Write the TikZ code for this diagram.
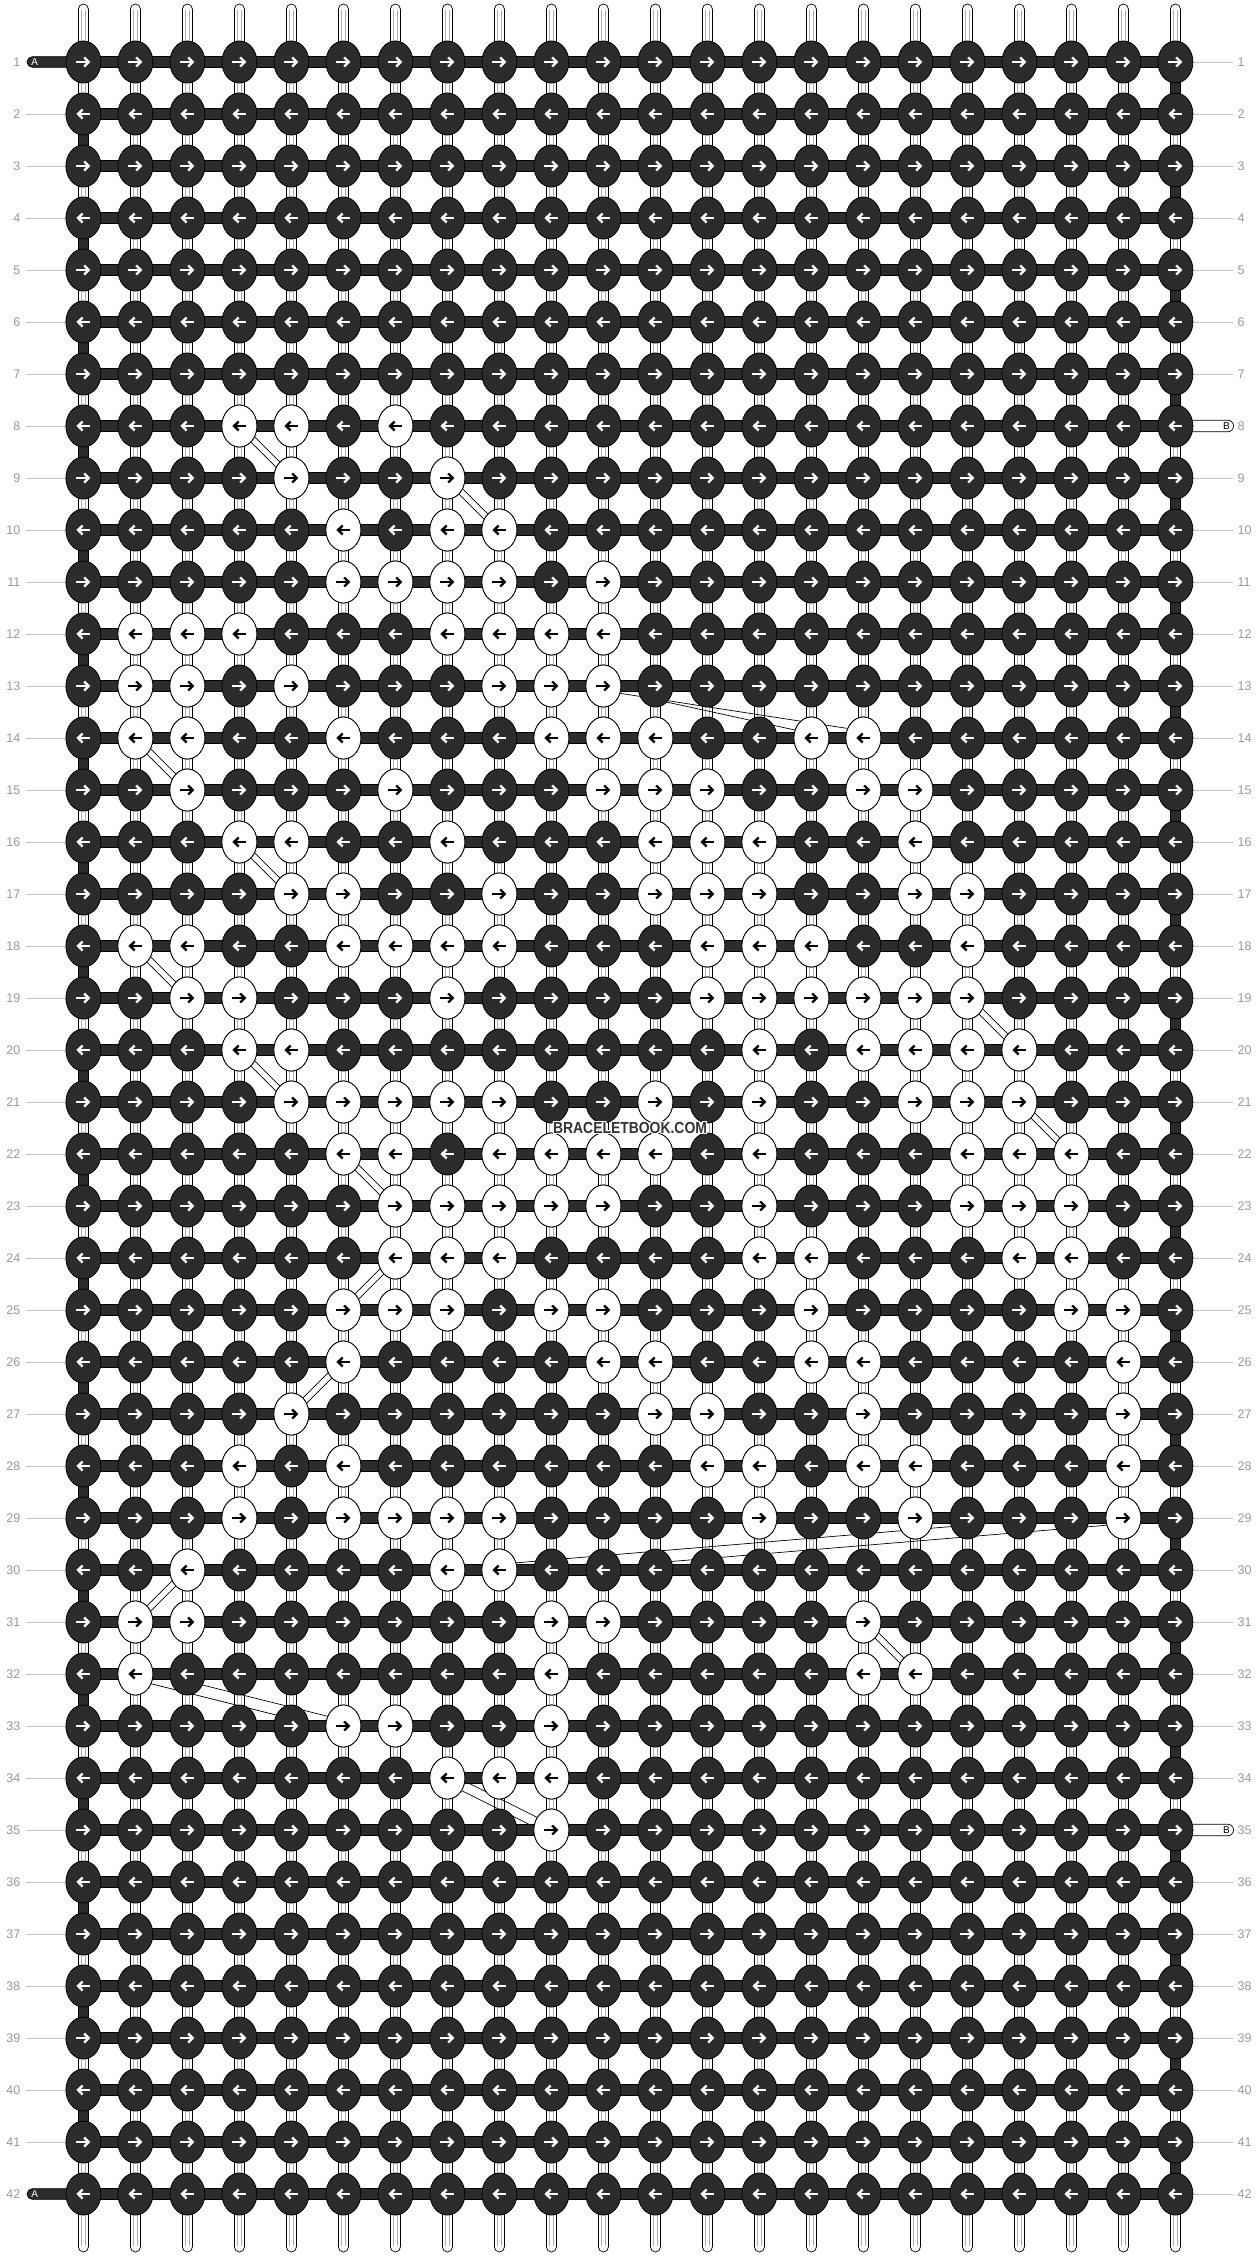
\documentclass[tikz,border=0pt]{standalone}
\usepackage{fontspec}
\setmainfont{Liberation Sans}
\usetikzlibrary{arrows.meta,shapes.geometric}
\definecolor{knotdark}{HTML}{2C2C2C}
\definecolor{numgray}{HTML}{999999}
\definecolor{linegray}{HTML}{C4C4C4}
\definecolor{tubegray}{HTML}{B0B0B0}
\definecolor{wmdark}{HTML}{333333}
\newcommand\dtube[5]{%
  \draw[diag] ([yshift=#5pt]p-#1-#2) -- ([yshift=#5pt]p-#3-#4);
  \draw[diag] ([yshift=-#5pt]p-#1-#2) -- ([yshift=-#5pt]p-#3-#4);
}
\newcommand\wrow[2]{%
  \ifodd#1 \def\axs{-7}\def\axe{7}\else\def\axs{7}\def\axe{-7}\fi
  \foreach \c in {#2}{%
    \node[lightknot] (w-#1-\c) at (p-#1-\c) {};
    \draw[arrb] ([xshift=\axs pt]p-#1-\c) -- ([xshift=\axe pt]p-#1-\c);
  }%
}
\begin{document}
\begin{tikzpicture}[x=1pt,y=-1pt,
  knotshape/.style={ellipse, minimum width=35pt, minimum height=42pt, inner sep=0pt, draw=black, line width=0.8pt},
  darkknot/.style={knotshape, fill=knotdark},
  lightknot/.style={knotshape, fill=white},
  bar/.style={fill=knotdark, draw=black, line width=0.7pt},
  tube/.style={fill=white, draw=black, line width=0.7pt},
  tubeline/.style={draw=tubegray, line width=0.6pt},
  diag/.style={draw=black, line width=0.7pt},
  numline/.style={draw=linegray, line width=0.9pt},
  numlabel/.style={text=numgray, font=\fontsize{12.5}{14}\selectfont, inner sep=0pt},
  arrw/.style={draw=white, line width=2.4pt, -{Straight Barb[length=4.5pt,width=9pt]}},
  arrb/.style={arrw, draw=black},
  tablabel/.style={font=\fontsize{10}{12}\selectfont, inner sep=0pt},
  wm/.style={font=\bfseries\fontsize{16}{18}\selectfont, inner sep=0pt}
]
\useasboundingbox (0,0) rectangle (1260,2256);
\fill[white] (0,0) rectangle (1260,2256);

% grid coordinates
\foreach \r in {1,...,42}{
  \foreach \c in {1,...,22}{
    \coordinate (p-\r-\c) at ({83.4+52*(\c-1)},{62+52*(\r-1)});
  }
}

% top and bottom string ends
\foreach \c in {1,...,22}{
  \path[tube, rounded corners=5pt] ([xshift=-5pt]p-1-\c) -- ++(0,-58) -- ++(10,0) -- ([xshift=5pt]p-1-\c) -- cycle;
  \draw[tubeline] ([xshift=-1.8pt]p-1-\c) -- ++(0,-52);
  \draw[tubeline] ([xshift=1.8pt]p-1-\c) -- ++(0,-52);
  \path[tube, rounded corners=5pt] ([xshift=-5pt]p-42-\c) -- ++(0,58) -- ++(10,0) -- ([xshift=5pt]p-42-\c) -- cycle;
  \draw[tubeline] ([xshift=-1.8pt]p-42-\c) -- ++(0,52);
  \draw[tubeline] ([xshift=1.8pt]p-42-\c) -- ++(0,52);
}

% segments between rows
\foreach \r in {1,...,41}{
  \pgfmathtruncatemacro\rn{\r+1}
  \foreach \c in {1,...,22}{
    \pgfmathtruncatemacro\dk{((\c==1)&&(mod(\r,2)==0))||((\c==22)&&(mod(\r,2)==1))}
    \ifnum\dk=1
      \path[bar] ([xshift=-5.3pt]p-\r-\c) rectangle ([xshift=5.3pt]p-\rn-\c);
    \else
      \path[tube] ([xshift=-5pt]p-\r-\c) rectangle ([xshift=5pt]p-\rn-\c);
      \draw[tubeline] ([xshift=-1.8pt]p-\r-\c) -- ([xshift=-1.8pt]p-\rn-\c);
      \draw[tubeline] ([xshift=1.8pt]p-\r-\c) -- ([xshift=1.8pt]p-\rn-\c);
    \fi
  }
}

% diagonal floats
\dtube{8}{4}{9}{5}{4.5}
\dtube{9}{8}{10}{9}{4.5}
\coordinate (f13a) at (620,693.3);
\coordinate (f14a) at (846.7,728.3);
\coordinate (f13b) at (665,701.7);
\coordinate (f14b) at (795,730);
\draw[diag] (f13a) -- (f14a);
\draw[diag] (f13b) -- (f14b);
\dtube{14}{2}{15}{3}{4.5}
\dtube{16}{4}{17}{5}{4.5}
\dtube{18}{2}{19}{3}{4.5}
\dtube{19}{18}{20}{19}{4.5}
\dtube{20}{4}{21}{5}{4.5}
\dtube{21}{19}{22}{20}{4.5}
\dtube{22}{6}{23}{7}{4.5}
\dtube{24}{7}{25}{6}{4.5}
\dtube{26}{6}{27}{5}{4.5}
\dtube{30}{9}{29}{21}{5.8}
\dtube{30}{3}{31}{2}{4.5}
\dtube{31}{16}{32}{17}{4.5}
\dtube{32}{2}{33}{6}{5.8}
\dtube{34}{8}{35}{10}{5.5}

% horizontal working threads
\foreach \r in {1,...,42}{
  \path[bar] ([yshift=5.3pt]p-\r-1) rectangle ([yshift=-5.3pt]p-\r-22);
}

% string tabs
\path[bar, rounded corners=5.3pt] (27,56.7) rectangle (84,67.3);
\path[bar, rounded corners=5.3pt] (27,2188.7) rectangle (84,2199.3);
\path[tube, rounded corners=5.8pt] (1170,420.2) rectangle (1233.5,431.8);
\path[tube, rounded corners=5.8pt] (1170,1824.2) rectangle (1233.5,1835.8);

% row number leader lines
\foreach \r in {2,...,41}{
  \coordinate (ln-\r) at (26,{62+52*(\r-1)});
  \draw[numline] (ln-\r) -- (p-\r-1);
}
\foreach \r in {1,...,7,9,10,...,34,36,37,...,42}{
  \coordinate (rn-\r) at (1233,{62+52*(\r-1)});
  \draw[numline] (p-\r-22) -- (rn-\r);
}

% knots
\foreach \r in {1,...,42}{
  \ifodd\r \def\axs{-7}\def\axe{7}\else\def\axs{7}\def\axe{-7}\fi
  \foreach \c in {1,...,22}{
    \node[darkknot] (k-\r-\c) at (p-\r-\c) {};
    \draw[arrw] ([xshift=\axs pt]p-\r-\c) -- ([xshift=\axe pt]p-\r-\c);
  }
}

% light knots
\wrow{8}{4,5,7}
\wrow{9}{5,8}
\wrow{10}{6,8,9}
\wrow{11}{6,7,8,9,11}
\wrow{12}{2,3,4,8,9,10,11}
\wrow{13}{2,3,5,9,10,11}
\wrow{14}{2,3,6,10,11,12,15,16}
\wrow{15}{3,7,11,12,13,16,17}
\wrow{16}{4,5,8,12,13,14,17}
\wrow{17}{5,6,9,12,13,14,17,18}
\wrow{18}{2,3,6,7,8,9,13,14,15,18}
\wrow{19}{3,4,8,13,14,15,16,17,18}
\wrow{20}{4,5,14,16,17,18,19}
\wrow{21}{5,6,7,8,9,12,14,17,18,19}
\wrow{22}{6,7,9,10,11,12,14,18,19,20}
\wrow{23}{7,8,9,10,11,14,18,19,20}
\wrow{24}{7,8,9,14,15,19,20}
\wrow{25}{6,7,8,10,11,15,20,21}
\wrow{26}{6,11,12,15,16,21}
\wrow{27}{5,12,13,16,21}
\wrow{28}{4,6,13,14,16,17,21}
\wrow{29}{4,6,7,8,9,14,17,21}
\wrow{30}{3,8,9}
\wrow{31}{2,3,10,11,16}
\wrow{32}{2,10,16,17}
\wrow{33}{6,7,10}
\wrow{34}{8,9,10}
\wrow{35}{10}

% row numbers
\foreach \r in {1,...,42}{
  \node[numlabel, anchor=east] (nl-\r) at (20.5,{62+52*(\r-1)}) {\r};
  \node[numlabel, anchor=west] (nr-\r) at (1237.5,{62+52*(\r-1)}) {\r};
}
\node[tablabel, text=white] (ta-1) at (34.7,62) {A};
\node[tablabel, text=white] (ta-42) at (34.7,2194) {A};
\node[tablabel, text=black] (tb-8) at (1226.5,426) {B};
\node[tablabel, text=black] (tb-35) at (1226.5,1830) {B};

% watermark
\foreach \dx/\dy [count=\i] in {1.3/0,-1.3/0,0/1.3,0/-1.3,1/1,-1/1,1/-1,-1/-1}{
  \node[wm, text=white] (wmh-\i) at ({630+\dx},{1128+\dy}) {\scalebox{0.87}[1]{BRACELETBOOK.COM}};
}
\node[wm, text=wmdark] (wm) at (630,1128) {\scalebox{0.87}[1]{BRACELETBOOK.COM}};
\end{tikzpicture}
\end{document}
